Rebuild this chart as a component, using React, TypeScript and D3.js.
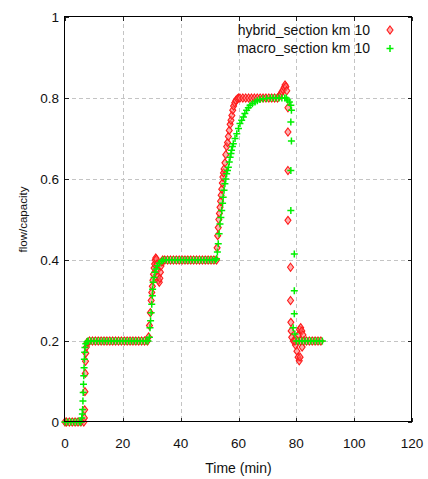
import React from "react";
import * as d3 from "d3";

// flow/capacity readings at km 10, [time (min), flow/capacity]
const hybridSection: [number, number][] = [
  [0, 0], [0.5, 0], [1.5, 0], [2.5, 0], [3.5, 0], [4.5, 0], [5.5, 0], [6.5, 0],
  [6.7, 0.01], [6.8, 0.03], [6.9, 0.075], [7.0, 0.12], [7.1, 0.15], [7.2, 0.17], [7.4, 0.185], [7.7, 0.197],
  [8.5, 0.2], [9.5, 0.2], [10.5, 0.2], [11.5, 0.2], [12.5, 0.2], [13.5, 0.2], [14.5, 0.2], [15.5, 0.2],
  [16.5, 0.2], [17.5, 0.2], [18.5, 0.2], [19.5, 0.2], [20.5, 0.2], [21.5, 0.2], [22.5, 0.2], [23.5, 0.2],
  [24.5, 0.2], [25.5, 0.2], [26.5, 0.2], [27.5, 0.2], [28.5, 0.2],
  [28.9, 0.21], [29.2, 0.238], [29.5, 0.27], [29.8, 0.3], [30.0, 0.32], [30.2, 0.335], [30.4, 0.35],
  [30.6, 0.365], [30.8, 0.38], [31.0, 0.39], [31.2, 0.4], [31.4, 0.405], [31.6, 0.402], [31.8, 0.39],
  [32.0, 0.375], [32.2, 0.36], [32.4, 0.35], [32.6, 0.345], [32.8, 0.355], [33.0, 0.37], [33.2, 0.385],
  [33.5, 0.395], [33.8, 0.4],
  [34.5, 0.4], [35.5, 0.4], [36.5, 0.4], [37.5, 0.4], [38.5, 0.4], [39.5, 0.4], [40.5, 0.4], [41.5, 0.4],
  [42.5, 0.4], [43.5, 0.4], [44.5, 0.4], [45.5, 0.4], [46.5, 0.4], [47.5, 0.4], [48.5, 0.4], [49.5, 0.4],
  [50.5, 0.4], [51.5, 0.4],
  [52.4, 0.4], [52.6, 0.43], [52.8, 0.46], [53.0, 0.48], [53.2, 0.5], [53.4, 0.515], [53.6, 0.53],
  [53.8, 0.545], [54.0, 0.56], [54.2, 0.575], [54.4, 0.59], [54.6, 0.605], [54.8, 0.615], [55.0, 0.625],
  [55.3, 0.64], [55.6, 0.66], [55.9, 0.68], [56.2, 0.69], [56.5, 0.705], [56.8, 0.72], [57.1, 0.735],
  [57.4, 0.745], [57.7, 0.757], [58.0, 0.77], [58.3, 0.78], [58.7, 0.788], [59.1, 0.794], [59.6, 0.798],
  [60.0, 0.8],
  [60.5, 0.8], [61.5, 0.8], [62.5, 0.8], [63.5, 0.8], [64.5, 0.8], [65.5, 0.8], [66.5, 0.8], [67.5, 0.8],
  [68.5, 0.8], [69.5, 0.8], [70.5, 0.8], [71.5, 0.8], [72.5, 0.8], [73.5, 0.8],
  [74.2, 0.805], [74.6, 0.81], [75.0, 0.815], [75.4, 0.82], [75.8, 0.826], [76.1, 0.832], [76.4, 0.828],
  [76.7, 0.818],
  [77.1, 0.776], [77.1, 0.716], [77.1, 0.621], [77.1, 0.498],
  [78.0, 0.382], [78.0, 0.3], [78.1, 0.246], [78.2, 0.225], [78.4, 0.209],
  [79.0, 0.2], [79.7, 0.19], [80.2, 0.175], [80.6, 0.16], [81.0, 0.151], [81.3, 0.16], [82.0, 0.185],
  [80.7, 0.215], [81.1, 0.228], [81.5, 0.233], [81.9, 0.225], [82.3, 0.215],
  [79.5, 0.2], [80.5, 0.2], [81.5, 0.2], [82.5, 0.2], [83.5, 0.2], [84.5, 0.2], [85.5, 0.2], [86.5, 0.2],
  [87.5, 0.2], [88.5, 0.2],
];

const macroSection: [number, number][] = [
  [0, 0], [1, 0], [2, 0], [3, 0], [4, 0], [5, 0], [5.5, 0],
  [5.8, 0.01], [6.0, 0.02], [6.1, 0.031], [6.2, 0.052], [6.3, 0.073], [6.4, 0.093], [6.5, 0.114],
  [6.6, 0.134], [6.7, 0.155], [6.8, 0.172], [6.9, 0.184], [7.2, 0.193], [7.6, 0.198],
  [8, 0.2], [9, 0.2], [10, 0.2], [11, 0.2], [12, 0.2], [13, 0.2], [14, 0.2], [15, 0.2], [16, 0.2],
  [17, 0.2], [18, 0.2], [19, 0.2], [20, 0.2], [21, 0.2], [22, 0.2], [23, 0.2], [24, 0.2], [25, 0.2],
  [26, 0.2], [27, 0.2], [28, 0.2], [28.7, 0.2],
  [29.2, 0.209], [29.4, 0.233], [29.6, 0.25], [29.8, 0.27], [30.0, 0.291], [30.2, 0.312], [30.3, 0.328],
  [30.5, 0.345], [30.8, 0.357], [31.1, 0.37], [31.5, 0.378], [31.9, 0.386], [32.6, 0.392], [33.4, 0.397],
  [34.0, 0.4],
  [35, 0.4], [36, 0.4], [37, 0.4], [38, 0.4], [39, 0.4], [40, 0.4], [41, 0.4], [42, 0.4], [43, 0.4],
  [44, 0.4], [45, 0.4], [46, 0.4], [47, 0.4], [48, 0.4], [49, 0.4], [50, 0.4], [51, 0.4], [52, 0.4],
  [52.4, 0.403], [52.7, 0.42], [53.0, 0.44], [53.3, 0.465], [53.6, 0.489], [53.9, 0.505], [54.2, 0.522],
  [54.5, 0.54], [54.7, 0.555], [55.0, 0.572], [55.3, 0.588], [55.6, 0.6], [55.9, 0.613], [56.2, 0.621],
  [56.5, 0.629], [56.8, 0.642], [57.1, 0.654], [57.4, 0.663], [57.6, 0.671], [57.9, 0.68], [58.2, 0.687],
  [58.8, 0.7], [59.4, 0.712], [60.0, 0.725], [60.5, 0.737], [61.1, 0.745], [61.7, 0.753], [62.2, 0.762],
  [62.8, 0.77], [63.4, 0.776], [64.0, 0.782], [64.8, 0.786], [65.7, 0.79], [66.5, 0.793], [67.4, 0.796],
  [68.5, 0.798], [69.7, 0.799],
  [71, 0.8], [72, 0.8], [73, 0.8], [74, 0.8], [75, 0.8], [76, 0.8], [76.5, 0.8], [77, 0.795], [77.6, 0.79],
  [78.1, 0.782], [78.3, 0.77], [78.1, 0.741], [78.3, 0.694], [78.1, 0.621], [78.1, 0.522],
  [79.3, 0.415], [79.3, 0.324], [79.3, 0.267], [78.9, 0.233], [79.5, 0.217],
  [80, 0.2], [81, 0.2], [82, 0.2], [83, 0.2], [84, 0.2], [85, 0.2], [86, 0.2], [87, 0.2], [88, 0.2], [89, 0.2],
];

const xTicks = [0, 20, 40, 60, 80, 100, 120];
const yTicks = [0, 0.2, 0.4, 0.6, 0.8, 1];
const legendLabels = ["hybrid_section km 10", "macro_section km 10"];

const width = 428;
const height = 479;
const margin = { top: 17, right: 16, bottom: 57, left: 65 };

const FONT = "'Liberation Sans', Arial, sans-serif";
const RED_STROKE = "#ff1a1a";
const RED_FILL = "rgba(255,110,110,0.55)";
const GREEN = "#00f000";

const diamond = (cx: number, cy: number) =>
  `M${cx},${cy - 4}L${cx + 3},${cy}L${cx},${cy + 4}L${cx - 3},${cy}Z`;
const plus = (cx: number, cy: number) =>
  `M${cx - 3.5},${cy}H${cx + 3.5}M${cx},${cy - 3.5}V${cy + 3.5}`;

const App = () => {
  const x = d3.scaleLinear().domain([0, 120]).range([margin.left, width - margin.right]);
  const y = d3.scaleLinear().domain([0, 1]).range([height - margin.bottom, margin.top]);

  const x0 = x(0), x1 = x(120), y0 = y(0), y1 = y(1);
  const px = (v: number) => Math.round(v) + 0.5;

  return (
    <svg
      width={width}
      height={height}
      style={{ position: "absolute", left: 0, top: 0, background: "#fff" }}
      fontFamily={FONT}
    >
      {/* grid */}
      <g stroke="#c4c4c4" strokeDasharray="4,3" shapeRendering="crispEdges">
        {xTicks.slice(1, -1).map((t) => (
          <line key={"gx" + t} x1={px(x(t))} x2={px(x(t))} y1={y1} y2={y0} />
        ))}
        {yTicks.slice(1, -1).map((t) => (
          <line key={"gy" + t} x1={x0} x2={x1} y1={px(y(t))} y2={px(y(t))} />
        ))}
      </g>

      {/* ticks, mirrored inside the frame */}
      <g stroke="#222" shapeRendering="crispEdges">
        {xTicks.map((t) => (
          <g key={"tx" + t}>
            <line x1={px(x(t))} x2={px(x(t))} y1={y0} y2={y0 - 4} />
            <line x1={px(x(t))} x2={px(x(t))} y1={y1} y2={y1 + 4} />
          </g>
        ))}
        {yTicks.map((t) => (
          <g key={"ty" + t}>
            <line x1={x0} x2={x0 + 4} y1={px(y(t))} y2={px(y(t))} />
            <line x1={x1} x2={x1 - 4} y1={px(y(t))} y2={px(y(t))} />
          </g>
        ))}
      </g>

      {/* hybrid points */}
      <g stroke={RED_STROKE} strokeWidth={1.1} fill={RED_FILL}>
        {hybridSection.map((d, i) => (
          <path key={"h" + i} d={diamond(x(d[0]), y(d[1]))} />
        ))}
      </g>

      {/* macro points */}
      <g stroke={GREEN} strokeWidth={1.5} fill="none">
        {macroSection.map((d, i) => (
          <path key={"m" + i} d={plus(x(d[0]), y(d[1]))} />
        ))}
      </g>

      {/* frame */}
      <rect
        x={px(x0) - 1}
        y={px(y1) - 1}
        width={Math.round(x1 - x0)}
        height={Math.round(y0 - y1)}
        fill="none"
        stroke="#000"
        shapeRendering="crispEdges"
      />

      {/* tick labels */}
      <g fontSize={13.5} fill="#111">
        {xTicks.map((t) => (
          <text key={"lx" + t} x={x(t)} y={y0 + 26} textAnchor="middle">
            {t}
          </text>
        ))}
        {yTicks.map((t) => (
          <text key={"ly" + t} x={x0 - 6} y={y(t)} dy="0.35em" textAnchor="end">
            {d3.format("~g")(t)}
          </text>
        ))}
      </g>

      {/* axis titles */}
      <text x={(x0 + x1) / 2} y={473} textAnchor="middle" fontSize={14} fill="#111">
        Time (min)
      </text>
      <text
        transform={`translate(27,${(y0 + y1) / 2}) rotate(-90)`}
        textAnchor="middle"
        fontSize={11.5}
        fill="#111"
      >
        flow/capacity
      </text>

      {/* legend */}
      <g fontSize={14} fill="#111">
        <text x={370} y={35} textAnchor="end">{legendLabels[0]}</text>
        <path d={diamond(390, 30)} stroke={RED_STROKE} strokeWidth={1.1} fill={RED_FILL} />
        <text x={370} y={53} textAnchor="end">{legendLabels[1]}</text>
        <path d={plus(390, 48.5)} stroke={GREEN} strokeWidth={1.5} fill="none" />
      </g>
    </svg>
  );
};

export default App;
